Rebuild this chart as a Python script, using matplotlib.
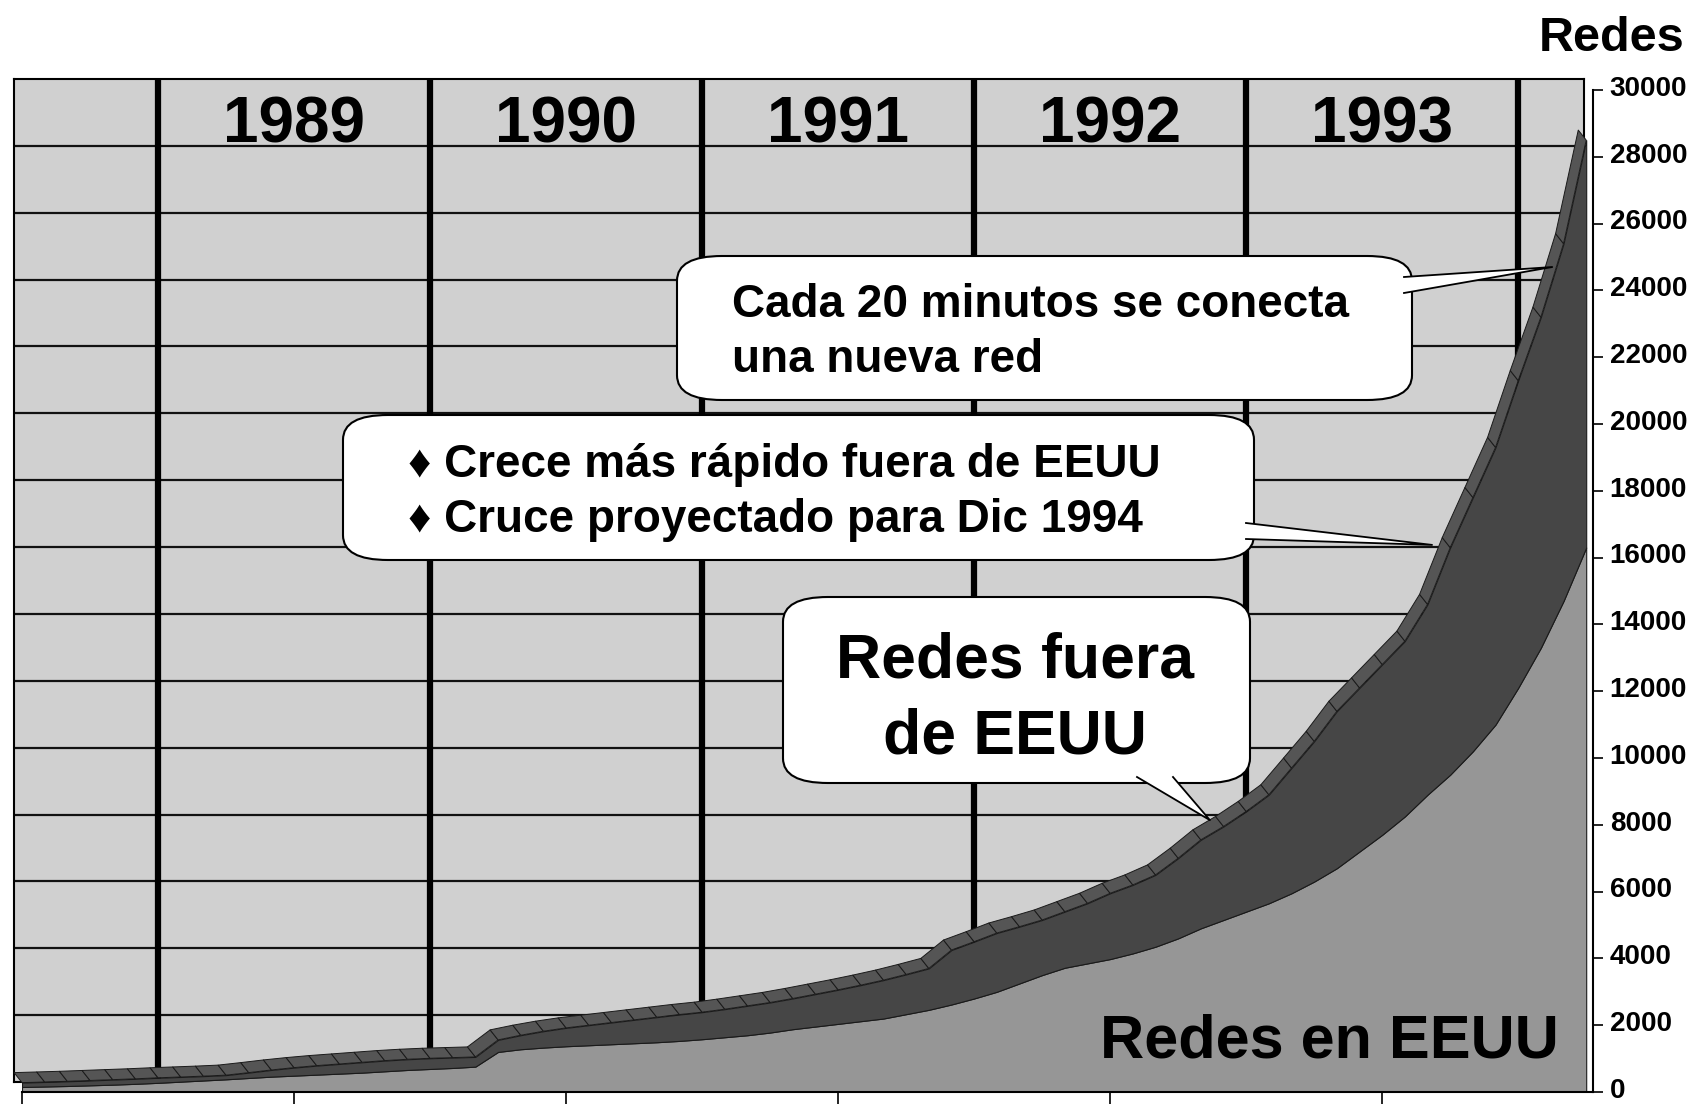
import matplotlib
matplotlib.use("Agg")
import matplotlib.pyplot as plt
import matplotlib.transforms as mtransforms
import numpy as np
from matplotlib.patches import FancyBboxPatch, Polygon
from matplotlib.collections import PolyCollection

# monthly network counts, Jul 1988 .. Apr 1994
redes_eeuu = [150, 165, 180, 200, 220, 245, 275, 310, 345, 380,
              420, 460, 490, 520, 550, 580, 620, 660, 690, 720,
              760, 1200, 1280, 1330, 1370, 1400, 1430, 1460, 1490, 1530,
              1580, 1640, 1700, 1780, 1880, 1960, 2040, 2120, 2200, 2330,
              2460, 2620, 2800, 3000, 3250, 3500, 3720, 3850, 3980, 4150,
              4350, 4600, 4900, 5150, 5400, 5650, 5950, 6300, 6700, 7200,
              7700, 8250, 8900, 9500, 10200, 11000, 12100, 13300, 14700, 16300]
redes_fuera = [130, 135, 140, 145, 150, 150, 150, 140, 130, 125,
               160, 200, 240, 270, 290, 310, 320, 320, 320, 310,
               290, 360, 420, 490, 550, 600, 650, 700, 750, 790,
               810, 840, 880, 900, 920, 970, 1020, 1080, 1150, 1190,
               1240, 1630, 1700, 1760, 1700, 1650, 1680, 1800, 1970, 2050,
               2150, 2400, 2650, 2800, 3000, 3250, 3750, 4200, 4700, 4900,
               5100, 5250, 5700, 6800, 7600, 8300, 9200, 9900, 10700, 12200]
anios = ["1989", "1990", "1991", "1992", "1993"]
ticks_y = list(range(0, 30001, 2000))

W, H = 1707, 1104
plt.rcParams["font.family"] = ["Liberation Sans", "DejaVu Sans"]
plt.rcParams["font.weight"] = "bold"

fig = plt.figure(figsize=(W / 100, H / 100), dpi=100)
fig.patch.set_facecolor("white")

meses = np.arange(len(redes_eeuu))
total = np.add(redes_eeuu, redes_fuera)
enero = [12 * (int(a) - 1988) - 6 for a in anios]
enero.append(enero[-1] + 12)

# --- back wall (3D look: shifted up/left) ---
wall = fig.add_axes([14 / W, 1 - 1082 / H, (1584 - 14) / W, (1082 - 79) / H], zorder=0)
wall.set_facecolor("#d0d0d0")
wall.set_xlim(-8 / 22.67, (1584 - 22) / 22.67)
wall.set_ylim(0, 30000)
wall.set_xticks([])
wall.set_yticks([])
for s in wall.spines.values():
    s.set_linewidth(1.5)
    s.set_color("black")
wall.hlines(ticks_y[1:-1], -1, 70, colors="#111111", linewidth=1.6)
wall.vlines(enero, 0, 30000, colors="black", linewidth=4.5)
for a, m in zip(anios, enero):
    wall.text(m + 6, 28100, a, ha="center", va="baseline",
              fontsize=46, fontweight="bold")

# --- front axes with the stacked series ---
ax = fig.add_axes([22 / W, 1 - 1092 / H, (1593 - 22) / W, (1092 - 90) / H], zorder=1)
ax.set_facecolor("none")
ax.set_xlim(0, 69.3)
ax.set_ylim(0, 30000)
ax.stackplot(meses, redes_eeuu, redes_fuera, colors=["#969696", "#464646"],
             edgecolor="#1a1a1a", linewidth=0.8)

# top face of the series (depth ribbon)
dx, dy = 0.35, 300
quads = []
for i in range(len(meses) - 1):
    quads.append([(meses[i], total[i]), (meses[i + 1], total[i + 1]),
                  (meses[i + 1] - dx, total[i + 1] + dy), (meses[i] - dx, total[i] + dy)])
ribbon = PolyCollection(quads, facecolors="#555555", edgecolors="#1a1a1a",
                        linewidths=0.7, clip_on=False, zorder=3)
ax.add_collection(ribbon)

for side in ["left", "top"]:
    ax.spines[side].set_visible(False)
for side in ["right", "bottom"]:
    ax.spines[side].set_linewidth(1.5)
ax.yaxis.tick_right()
ax.set_yticks(ticks_y)
ax.set_xticks(meses[::12][:6])
ax.tick_params(axis="x", direction="out", length=9, width=1.2, labelbottom=False)
ax.tick_params(axis="y", direction="out", length=7, width=1.2, pad=5, labelsize=20)
shift_up = mtransforms.ScaledTranslation(0, 3 / 72, fig.dpi_scale_trans)
for lab in ax.get_yticklabels():
    lab.set_fontweight("bold")
    lab.set_transform(lab.get_transform() + shift_up)

# --- overlay in pixel coords for the callouts ---
ov = fig.add_axes([0, 0, 1, 1], zorder=5)
ov.set_xlim(0, W)
ov.set_ylim(H, 0)
ov.axis("off")
ov.patch.set_alpha(0)


def to_px(m, v):
    return ov.transData.inverted().transform(ax.transData.transform((m, v)))


def bubble(x0, y0, x1, y1, base_a, base_b, tip_data):
    box = FancyBboxPatch((x0, y0), x1 - x0, y1 - y0,
                         boxstyle="round,pad=0,rounding_size=45", mutation_aspect=0.55,
                         fc="white", ec="black", lw=1.5, zorder=2)
    ov.add_patch(box)
    tip = to_px(*tip_data)
    ov.add_patch(Polygon([base_a, tip, base_b], closed=True, fc="white", ec="none", zorder=3))
    ov.plot([base_a[0], tip[0], base_b[0]], [base_a[1], tip[1], base_b[1]],
            color="black", lw=1.3, zorder=4)


bubble(677, 256, 1412, 400, (1404, 277), (1404, 293), (67.5, 24700))
ov.text(732, 317, "Cada 20 minutos se conecta", fontsize=33, fontweight="bold",
        va="baseline", ha="left", zorder=5)
ov.text(732, 372, "una nueva red", fontsize=33, fontweight="bold",
        va="baseline", ha="left", zorder=5)

bubble(343, 415, 1254, 560, (1246, 523), (1246, 539), (62.2, 16380))
ov.text(408, 477, "\u2666 Crece más rápido fuera de EEUU", fontsize=33, fontweight="bold",
        va="baseline", ha="left", zorder=5)
ov.text(408, 532, "\u2666 Cruce proyectado para Dic 1994", fontsize=33, fontweight="bold",
        va="baseline", ha="left", zorder=5)

bubble(783, 597, 1250, 783, (1137, 777), (1173, 777), (52.4, 8140))
ov.text(1015, 678, "Redes fuera", fontsize=45, fontweight="bold",
        va="baseline", ha="center", zorder=5)
ov.text(1015, 753, "de EEUU", fontsize=45, fontweight="bold",
        va="baseline", ha="center", zorder=5)

ov.text(1559, 1058, "Redes en EEUU", fontsize=44, fontweight="bold",
        va="baseline", ha="right", zorder=5)
ov.text(1685, 51, "Redes", fontsize=35, fontweight="bold",
        va="baseline", ha="right", zorder=5)

fig.savefig("out.png", dpi=100, facecolor="white")
plt.close(fig)
